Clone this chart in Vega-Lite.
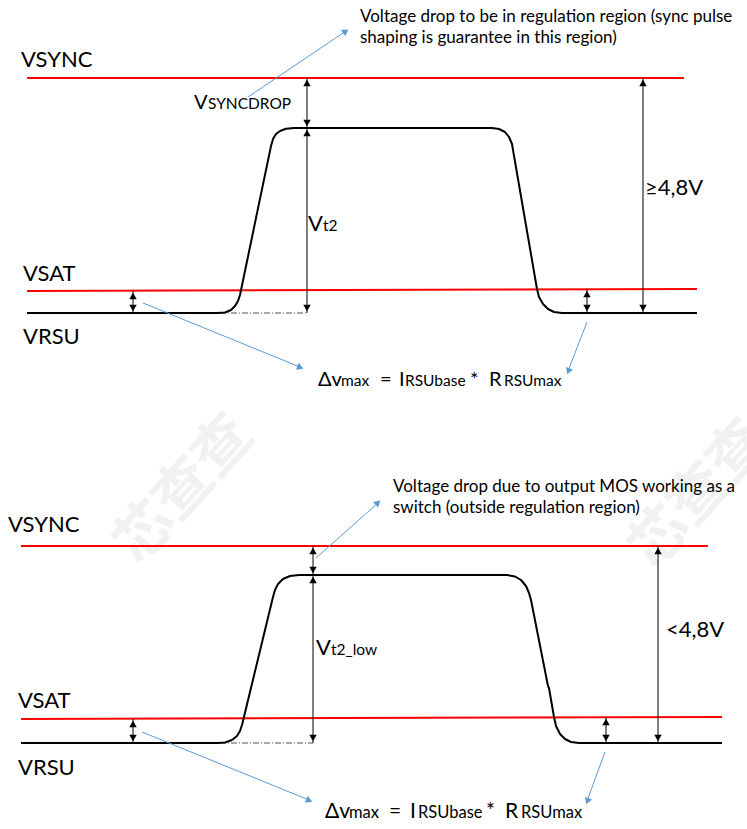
{
  "$schema": "https://vega.github.io/schema/vega-lite/v6.json",
  "width": 747,
  "height": 829,
  "padding": 0,
  "autosize": {"type": "none"},
  "background": "white",
  "config": {"view": {"stroke": null}},
  "datasets": {
    "water": [
      {"x": 185, "y": 490, "t": "芯查查"},
      {"x": 700, "y": 495, "t": "芯查查"}
    ],
    "red": [
      {"x": 27, "x2": 684, "y": 78, "y2": 78},
      {"x": 27, "x2": 697, "y": 291, "y2": 289},
      {"x": 21, "x2": 708, "y": 546, "y2": 546},
      {"x": 21, "x2": 722, "y": 719, "y2": 717}
    ],
    "pulse": [
      {"seg": "top", "i": 1, "x": 27, "y": 313},
      {"seg": "top", "i": 2, "x": 217, "y": 313},
      {"seg": "top", "i": 3, "x": 225, "y": 312.5},
      {"seg": "top", "i": 4, "x": 231, "y": 310},
      {"seg": "top", "i": 5, "x": 235, "y": 306},
      {"seg": "top", "i": 6, "x": 238, "y": 301},
      {"seg": "top", "i": 7, "x": 240, "y": 295},
      {"seg": "top", "i": 8, "x": 271, "y": 146},
      {"seg": "top", "i": 9, "x": 273, "y": 139},
      {"seg": "top", "i": 10, "x": 276, "y": 134},
      {"seg": "top", "i": 11, "x": 280, "y": 131},
      {"seg": "top", "i": 12, "x": 286, "y": 128.8},
      {"seg": "top", "i": 13, "x": 294, "y": 128},
      {"seg": "top", "i": 14, "x": 492, "y": 128},
      {"seg": "top", "i": 15, "x": 499, "y": 129},
      {"seg": "top", "i": 16, "x": 505, "y": 132},
      {"seg": "top", "i": 17, "x": 509, "y": 137},
      {"seg": "top", "i": 18, "x": 512, "y": 144},
      {"seg": "top", "i": 19, "x": 513, "y": 150},
      {"seg": "top", "i": 20, "x": 537, "y": 289},
      {"seg": "top", "i": 21, "x": 539, "y": 297},
      {"seg": "top", "i": 22, "x": 543, "y": 304},
      {"seg": "top", "i": 23, "x": 548, "y": 309},
      {"seg": "top", "i": 24, "x": 554, "y": 312},
      {"seg": "top", "i": 25, "x": 562, "y": 313},
      {"seg": "top", "i": 26, "x": 697, "y": 313},
      {"seg": "bot", "i": 1, "x": 21, "y": 743},
      {"seg": "bot", "i": 2, "x": 217, "y": 743},
      {"seg": "bot", "i": 3, "x": 225, "y": 742.5},
      {"seg": "bot", "i": 4, "x": 232, "y": 740},
      {"seg": "bot", "i": 5, "x": 237, "y": 736},
      {"seg": "bot", "i": 6, "x": 240, "y": 731},
      {"seg": "bot", "i": 7, "x": 242, "y": 725},
      {"seg": "bot", "i": 8, "x": 273, "y": 597},
      {"seg": "bot", "i": 9, "x": 275, "y": 590},
      {"seg": "bot", "i": 10, "x": 278, "y": 584},
      {"seg": "bot", "i": 11, "x": 283, "y": 579},
      {"seg": "bot", "i": 12, "x": 290, "y": 576},
      {"seg": "bot", "i": 13, "x": 299, "y": 575},
      {"seg": "bot", "i": 14, "x": 507, "y": 575},
      {"seg": "bot", "i": 15, "x": 515, "y": 576.5},
      {"seg": "bot", "i": 16, "x": 521, "y": 580},
      {"seg": "bot", "i": 17, "x": 526, "y": 586},
      {"seg": "bot", "i": 18, "x": 529, "y": 593},
      {"seg": "bot", "i": 19, "x": 531, "y": 600},
      {"seg": "bot", "i": 20, "x": 548, "y": 686},
      {"seg": "bot", "i": 21, "x": 549, "y": 688},
      {"seg": "bot", "i": 22, "x": 554, "y": 717},
      {"seg": "bot", "i": 23, "x": 556, "y": 726},
      {"seg": "bot", "i": 24, "x": 560, "y": 734},
      {"seg": "bot", "i": 25, "x": 565, "y": 739},
      {"seg": "bot", "i": 26, "x": 571, "y": 742},
      {"seg": "bot", "i": 27, "x": 579, "y": 743},
      {"seg": "bot", "i": 28, "x": 722, "y": 743}
    ],
    "dashdot": [
      {"x": 220, "x2": 307, "y": 313},
      {"x": 220, "x2": 313, "y": 743}
    ],
    "vrules": [
      {"x": 307, "y": 78, "y2": 128},
      {"x": 307, "y": 128, "y2": 313},
      {"x": 643, "y": 78, "y2": 313},
      {"x": 133, "y": 291, "y2": 313},
      {"x": 587, "y": 289, "y2": 313},
      {"x": 313, "y": 546, "y2": 575},
      {"x": 313, "y": 575, "y2": 743},
      {"x": 658, "y": 546, "y2": 743},
      {"x": 133, "y": 719, "y2": 743},
      {"x": 606, "y": 717, "y2": 743}
    ],
    "heads": [
      {"x": 307, "y": 83, "dir": "up"},
      {"x": 307, "y": 123, "dir": "down"},
      {"x": 307, "y": 133, "dir": "up"},
      {"x": 307, "y": 308, "dir": "down"},
      {"x": 643, "y": 83, "dir": "up"},
      {"x": 643, "y": 308, "dir": "down"},
      {"x": 133, "y": 296, "dir": "up"},
      {"x": 133, "y": 308, "dir": "down"},
      {"x": 587, "y": 294, "dir": "up"},
      {"x": 587, "y": 308, "dir": "down"},
      {"x": 313, "y": 551, "dir": "up"},
      {"x": 313, "y": 570, "dir": "down"},
      {"x": 313, "y": 580, "dir": "up"},
      {"x": 313, "y": 738, "dir": "down"},
      {"x": 658, "y": 551, "dir": "up"},
      {"x": 658, "y": 738, "dir": "down"},
      {"x": 133, "y": 724, "dir": "up"},
      {"x": 133, "y": 738, "dir": "down"},
      {"x": 606, "y": 722, "dir": "up"},
      {"x": 606, "y": 738, "dir": "down"}
    ],
    "blue": [
      {"x": 248, "y": 97, "x2": 346, "y2": 31},
      {"x": 143, "y": 303, "x2": 300, "y2": 367},
      {"x": 587, "y": 322, "x2": 568, "y2": 371},
      {"x": 316, "y": 558, "x2": 378, "y2": 503},
      {"x": 142, "y": 732, "x2": 309, "y2": 800},
      {"x": 605, "y": 752, "x2": 587, "y2": 801}
    ],
    "blueheads": [
      {"x": 345.7, "y": 31.2, "deg": 56},
      {"x": 300.3, "y": 367.5, "deg": 112},
      {"x": 568.4, "y": 371.3, "deg": 201},
      {"x": 378, "y": 502.7, "deg": 48},
      {"x": 309.3, "y": 800.5, "deg": 112},
      {"x": 587.4, "y": 801.2, "deg": 200}
    ],
    "texts": [
      {"t": "VSYNC", "x": 21, "y": 67, "kind": "label"},
      {"t": "VSAT", "x": 23, "y": 281, "kind": "label"},
      {"t": "VRSU", "x": 23, "y": 344, "kind": "label"},
      {"t": "≥4,8V", "x": 645, "y": 195, "kind": "label"},
      {"t": "VSYNC", "x": 8, "y": 532, "kind": "label"},
      {"t": "VSAT", "x": 18, "y": 708, "kind": "label"},
      {"t": "VRSU", "x": 18, "y": 775, "kind": "label"},
      {"t": "<4,8V", "x": 666, "y": 637, "kind": "label"},
      {"t": "V", "x": 194, "y": 109, "kind": "mid"},
      {"t": "SYNCDROP", "x": 208, "y": 109, "kind": "sub"},
      {"t": "V", "x": 308, "y": 231, "kind": "label"},
      {"t": "t2", "x": 323, "y": 231, "kind": "sub"},
      {"t": "V", "x": 316, "y": 655, "kind": "label"},
      {"t": "t2_low", "x": 331, "y": 655, "kind": "sub"},
      {"t": "Δv", "x": 318, "y": 386, "kind": "mid"},
      {"t": "max", "x": 341, "y": 386, "kind": "sub"},
      {"t": "=", "x": 380, "y": 386, "kind": "mid"},
      {"t": "I", "x": 399, "y": 386, "kind": "mid"},
      {"t": "RSUbase", "x": 405, "y": 386, "kind": "sub"},
      {"t": "*", "x": 470, "y": 386, "kind": "mid"},
      {"t": "R", "x": 489, "y": 386, "kind": "mid"},
      {"t": "RSUmax", "x": 504, "y": 386, "kind": "sub"},
      {"t": "Δv", "x": 325, "y": 818, "kind": "mid2"},
      {"t": "max", "x": 349, "y": 818, "kind": "sub2"},
      {"t": "=", "x": 389, "y": 818, "kind": "mid2"},
      {"t": "I", "x": 410, "y": 818, "kind": "mid2"},
      {"t": "RSUbase", "x": 418, "y": 818, "kind": "sub2"},
      {"t": "*", "x": 486, "y": 818, "kind": "mid2"},
      {"t": "R", "x": 505, "y": 818, "kind": "mid2"},
      {"t": "RSUmax", "x": 521, "y": 818, "kind": "sub2"},
      {"t": "Voltage drop to be in regulation region (sync pulse", "x": 360, "y": 22, "kind": "note"},
      {"t": "shaping is guarantee in this region)", "x": 360, "y": 43, "kind": "note"},
      {"t": "Voltage drop due to output MOS working as a", "x": 393, "y": 492, "kind": "note"},
      {"t": "switch (outside regulation region)", "x": 393, "y": 513, "kind": "note"}
    ]
  },
  "layer": [
    {
      "data": {"name": "water"},
      "mark": {"type": "text", "font": "Noto Sans CJK SC", "fontWeight": "bold", "fontSize": 58, "angle": -48, "color": "#f1f1f1", "align": "center", "baseline": "middle"},
      "encoding": {
        "x": {"field": "x", "type": "quantitative", "scale": {"domain": [0, 747], "nice": false, "zero": false}, "axis": null},
        "y": {"field": "y", "type": "quantitative", "scale": {"domain": [0, 829], "reverse": true, "nice": false, "zero": false}, "axis": null},
        "text": {"field": "t"}
      }
    },
    {
      "data": {"name": "red"},
      "mark": {"type": "rule", "color": "#ff0000", "strokeWidth": 2},
      "encoding": {
        "x": {"field": "x", "type": "quantitative"},
        "x2": {"field": "x2"},
        "y": {"field": "y", "type": "quantitative"},
        "y2": {"field": "y2"}
      }
    },
    {
      "data": {"name": "dashdot"},
      "mark": {"type": "rule", "color": "#555555", "strokeWidth": 1, "strokeDash": [6, 2, 1, 2]},
      "encoding": {
        "x": {"field": "x", "type": "quantitative"},
        "x2": {"field": "x2"},
        "y": {"field": "y", "type": "quantitative"}
      }
    },
    {
      "data": {"name": "pulse"},
      "mark": {"type": "line", "color": "#000000", "strokeWidth": 2, "interpolate": "linear", "strokeJoin": "round"},
      "encoding": {
        "x": {"field": "x", "type": "quantitative"},
        "y": {"field": "y", "type": "quantitative"},
        "detail": {"field": "seg"},
        "order": {"field": "i", "type": "quantitative"}
      }
    },
    {
      "data": {"name": "vrules"},
      "mark": {"type": "rule", "color": "#000000", "strokeWidth": 1},
      "encoding": {
        "x": {"field": "x", "type": "quantitative"},
        "y": {"field": "y", "type": "quantitative"},
        "y2": {"field": "y2"}
      }
    },
    {
      "data": {"name": "heads"},
      "mark": {"type": "point", "filled": true, "color": "#000000", "size": 55, "opacity": 1},
      "encoding": {
        "x": {"field": "x", "type": "quantitative"},
        "y": {"field": "y", "type": "quantitative"},
        "shape": {"field": "dir", "type": "nominal", "scale": {"domain": ["up", "down"], "range": ["triangle-up", "triangle-down"]}, "legend": null}
      }
    },
    {
      "data": {"name": "blue"},
      "mark": {"type": "rule", "color": "#5b9bd5", "strokeWidth": 1},
      "encoding": {
        "x": {"field": "x", "type": "quantitative"},
        "x2": {"field": "x2"},
        "y": {"field": "y", "type": "quantitative"},
        "y2": {"field": "y2"}
      }
    },
    {
      "data": {"name": "blueheads"},
      "mark": {"type": "point", "filled": true, "color": "#5b9bd5", "size": 55, "opacity": 1, "shape": "triangle-up"},
      "encoding": {
        "x": {"field": "x", "type": "quantitative"},
        "y": {"field": "y", "type": "quantitative"},
        "angle": {"field": "deg", "type": "quantitative", "scale": null}
      }
    },
    {
      "data": {"name": "texts"},
      "transform": [{"filter": "datum.kind === 'label'"}],
      "mark": {"type": "text", "font": "Lato", "fontSize": 22, "color": "#000000", "align": "left", "baseline": "alphabetic"},
      "encoding": {
        "x": {"field": "x", "type": "quantitative"},
        "y": {"field": "y", "type": "quantitative"},
        "text": {"field": "t"}
      }
    },
    {
      "data": {"name": "texts"},
      "transform": [{"filter": "datum.kind === 'mid'"}],
      "mark": {"type": "text", "font": "Lato", "fontSize": 20, "color": "#000000", "align": "left", "baseline": "alphabetic"},
      "encoding": {
        "x": {"field": "x", "type": "quantitative"},
        "y": {"field": "y", "type": "quantitative"},
        "text": {"field": "t"}
      }
    },
    {
      "data": {"name": "texts"},
      "transform": [{"filter": "datum.kind === 'mid2'"}],
      "mark": {"type": "text", "font": "Lato", "fontSize": 21, "color": "#000000", "align": "left", "baseline": "alphabetic"},
      "encoding": {
        "x": {"field": "x", "type": "quantitative"},
        "y": {"field": "y", "type": "quantitative"},
        "text": {"field": "t"}
      }
    },
    {
      "data": {"name": "texts"},
      "transform": [{"filter": "datum.kind === 'sub'"}],
      "mark": {"type": "text", "font": "Lato", "fontSize": 15.5, "color": "#000000", "align": "left", "baseline": "alphabetic"},
      "encoding": {
        "x": {"field": "x", "type": "quantitative"},
        "y": {"field": "y", "type": "quantitative"},
        "text": {"field": "t"}
      }
    },
    {
      "data": {"name": "texts"},
      "transform": [{"filter": "datum.kind === 'sub2'"}],
      "mark": {"type": "text", "font": "Lato", "fontSize": 16.5, "color": "#000000", "align": "left", "baseline": "alphabetic"},
      "encoding": {
        "x": {"field": "x", "type": "quantitative"},
        "y": {"field": "y", "type": "quantitative"},
        "text": {"field": "t"}
      }
    },
    {
      "data": {"name": "texts"},
      "transform": [{"filter": "datum.kind === 'note'"}],
      "mark": {"type": "text", "font": "Lato", "fontSize": 17, "color": "#000000", "align": "left", "baseline": "alphabetic"},
      "encoding": {
        "x": {"field": "x", "type": "quantitative"},
        "y": {"field": "y", "type": "quantitative"},
        "text": {"field": "t"}
      }
    }
  ]
}
